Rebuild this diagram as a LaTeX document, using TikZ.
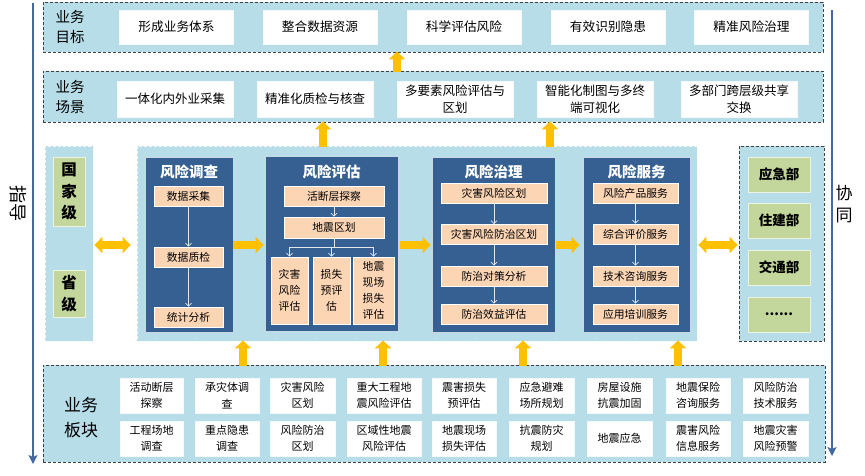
\documentclass[tikz,border=0pt]{standalone}
\usepackage{fontspec}
\setmainfont{Noto Sans CJK SC}
\usetikzlibrary{arrows.meta,calc}
\definecolor{lb}{HTML}{B7DDE8}
\definecolor{db}{HTML}{376092}
\definecolor{peach}{HTML}{FCD5B5}
\definecolor{gr}{HTML}{C3D69B}
\definecolor{yel}{HTML}{FFC000}
\definecolor{vline}{HTML}{4468A2}
\newcommand{\fs}[2]{\fontsize{#1}{#2}\selectfont}
\tikzset{
  band/.style={fill=lb, draw=black!75, dashed, line width=0.8pt, dash pattern=on 3pt off 2pt},
  softband/.style={fill=lb, draw=white!85!lb, dashed, line width=0.8pt, dash pattern=on 3pt off 2pt},
  wbox/.style={fill=white, draw=white!85!lb, line width=0.5pt, inner sep=0pt, align=center},
  gbox/.style={fill=gr, draw=white!70!gr, line width=0.8pt, inner sep=0pt, align=center, font=\fs{15.5}{21.5}\bfseries},
  modbox/.style={fill=db, draw=white!75!db, line width=0.8pt, inner sep=0pt},
  pbox/.style={fill=peach, draw=white, line width=0.6pt, inner sep=0pt, align=center, font=\fs{10.8}{16}},
  mtitle/.style={text=white, font=\fs{14.5}{16}\bfseries, inner sep=0pt},
  blabel/.style={align=center, inner sep=0pt},
  yarrow/.style={draw=yel, line width=8pt, -{Triangle[width=16pt,length=8pt]}},
  ydarrow/.style={draw=yel, line width=8pt, {Triangle[width=16pt,length=8pt]}-{Triangle[width=16pt,length=8pt]}},
  warrow/.style={draw=white!85!db, line width=0.8pt, -{Straight Barb[length=3pt,width=6pt]}},
  wline/.style={draw=white!85!db, line width=0.8pt},
  guide/.style={draw=vline, line width=1.6pt, -{Stealth[length=9pt,width=9pt,inset=2pt]}}
}
\begin{document}
\begin{tikzpicture}[x=1pt,y=-1pt]
\useasboundingbox (0,0) rectangle (865,475);

% guide lines
\coordinate (gl1) at (33,3);
\coordinate (gl2) at (33,464);
\coordinate (gr1) at (832,10);
\coordinate (gr2) at (832,456);
\draw[guide] (gl1) -- (gl2);
\draw[guide] (gr1) -- (gr2);
\node[rotate=-90, font=\fs{18}{20}, inner sep=0pt] (zhidao) at (18,203) {指导};
\node[align=center, font=\fs{17}{22}, inner sep=0pt] (xietong) at (844,204) {协\\同};

% goals band
\node[band, minimum width=780, minimum height=50, inner sep=0pt] (gband) at (433,27) {};
\node[blabel, font=\fs{14.5}{20}] (glab) at (70,27) {业务\\目标};
\foreach \n/\cx/\t in {g1/176.5/形成业务体系, g2/320/整合数据资源, g3/464/科学评估风险, g4/608/有效识别隐患, g5/751.5/精准风险治理}{
  \node[wbox, minimum width=114, minimum height=34, font=\fs{12.7}{16}] (\n) at (\cx,27) {\t};
}

% scenario band
\node[band, minimum width=780, minimum height=51, inner sep=0pt] (sband) at (433,96.5) {};
\node[blabel, font=\fs{14.5}{20}] (slab) at (70,96.5) {业务\\场景};
\foreach \n/\cx/\t in {s1/175/一体化内外业采集, s2/315/精准化质检与核查, s3/455/多要素风险评估与\\区划, s4/595/智能化制图与多终\\端可视化, s5/739/多部门跨层级共享\\交换}{
  \node[wbox, minimum width=116, minimum height=36, font=\fs{12.5}{17}] (\n) at (\cx,99) {\t};
}

% left level box
\node[softband, minimum width=48, minimum height=195, inner sep=0pt] (lbox) at (69,243.5) {};
\node[gbox, minimum width=32, minimum height=69] (guo) at (69,191.5) {国\\家\\级};
\node[gbox, minimum width=32, minimum height=47] (sheng) at (69,293.5) {省\\级};

% middle box
\node[softband, minimum width=560, minimum height=195, inner sep=0pt] (mid) at (417,243.5) {};

% module 1
\node[modbox, minimum width=88, minimum height=175] (m1) at (189,244.5) {};
\node[mtitle] (m1t) at (189,172) {风险调查};
\node[pbox, minimum width=69, minimum height=20] (a1) at (188.5,196) {数据采集};
\node[pbox, minimum width=69, minimum height=20] (a2) at (188.5,257) {数据质检};
\node[pbox, minimum width=69, minimum height=20] (a3) at (188.5,317) {统计分析};
\draw[warrow] (a1) -- (a2);
\draw[warrow] (a2) -- (a3);

% module 2
\node[modbox, minimum width=133, minimum height=175] (m2) at (331.5,243.5) {};
\node[mtitle] (m2t) at (331.5,172) {风险评估};
\node[pbox, minimum width=100, minimum height=20] (b1) at (334,196) {活断层探察};
\node[pbox, minimum width=100, minimum height=21] (b2) at (334,227.5) {地震区划};
\node[pbox, minimum width=37, minimum height=67] (b3) at (289.5,290.5) {灾害\\风险\\评估};
\node[pbox, minimum width=37, minimum height=67] (b4) at (331.5,290.5) {损失\\预评\\估};
\node[pbox, minimum width=41, minimum height=67] (b5) at (373.5,290.5) {地震\\现场\\损失\\评估};
\draw[warrow] (b1) -- (b2);
\coordinate (bj) at (334,247);
\draw[wline] (b2.south) -- (bj);
\draw[wline] (b3.north |- bj) -- (b5.north |- bj);
\draw[warrow] (b3.north |- bj) -- (b3.north);
\draw[warrow] (b4.north |- bj) -- (b4.north);
\draw[warrow] (b5.north |- bj) -- (b5.north);

% module 3
\node[modbox, minimum width=123, minimum height=175] (m3) at (493.5,244.5) {};
\node[mtitle] (m3t) at (493.5,172) {风险治理};
\node[pbox, minimum width=106, minimum height=20] (c1) at (494,193) {灾害风险区划};
\node[pbox, minimum width=106, minimum height=20] (c2) at (494,234.5) {灾害风险防治区划};
\node[pbox, minimum width=106, minimum height=20] (c3) at (494,276) {防治对策分析};
\node[pbox, minimum width=106, minimum height=20] (c4) at (494,314) {防治效益评估};
\draw[warrow] (c1) -- (c2);
\draw[warrow] (c2) -- (c3);
\draw[warrow] (c3) -- (c4);

% module 4
\node[modbox, minimum width=107, minimum height=175] (m4) at (636.5,244.5) {};
\node[mtitle] (m4t) at (636.5,172) {风险服务};
\node[pbox, minimum width=85, minimum height=20] (d1) at (635.5,193) {风险产品服务};
\node[pbox, minimum width=85, minimum height=20] (d2) at (635.5,234) {综合评价服务};
\node[pbox, minimum width=85, minimum height=20] (d3) at (635.5,276) {技术咨询服务};
\node[pbox, minimum width=85, minimum height=20] (d4) at (635.5,314) {应用培训服务};
\draw[warrow] (d1) -- (d2);
\draw[warrow] (d2) -- (d3);
\draw[warrow] (d3) -- (d4);

% right department box
\node[band, minimum width=85, minimum height=195, inner sep=0pt] (rbox) at (781.5,243.5) {};
\node[gbox, minimum width=62, minimum height=35, font=\fs{13.5}{16}\bfseries] (r1) at (779,174.5) {应急部};
\node[gbox, minimum width=62, minimum height=35, font=\fs{13.5}{16}\bfseries] (r2) at (779,220.5) {住建部};
\node[gbox, minimum width=62, minimum height=35, font=\fs{13.5}{16}\bfseries] (r3) at (779,267.5) {交通部};
\node[gbox, minimum width=62, minimum height=35, font=\fs{13.5}{16}\bfseries] (r4) at (779,314.5) {......};

% bottom band
\node[band, minimum width=782, minimum height=97, inner sep=0pt] (bband) at (434,413.5) {};
\node[blabel, font=\fs{17}{25}] (blab) at (81,418) {业务\\板块};
\foreach \n/\cx/\w/\t in {p1/151.5/63/活动断层\\探察, p2/227/64/承灾体调\\查, p3/302.5/65/灾害风险\\区划, p4/384/74/重大工程地\\震风险评估, p5/464/64/震害损失\\预评估, p6/541.5/65/应急避难\\场所规划, p7/619.5/65/房屋设施\\抗震加固, p8/698/64/地震保险\\咨询服务, p9/775.5/65/风险防治\\技术服务}{
  \node[wbox, minimum width=\w, minimum height=35, font=\fs{11}{16.5}] (\n) at (\cx,395.5) {\t};
}
\foreach \n/\cx/\w/\t in {q1/151.5/63/工程场地\\调查, q2/227/64/重点隐患\\调查, q3/302.5/65/风险防治\\区划, q4/384/74/区域性地震\\风险评估, q5/464/64/地震现场\\损失评估, q6/541.5/65/抗震防灾\\规划, q7/619.5/65/地震应急, q8/698/64/震害风险\\信息服务, q9/775.5/65/地震灾害\\风险预警}{
  \node[wbox, minimum width=\w, minimum height=35, font=\fs{11}{16.5}] (\n) at (\cx,438.5) {\t};
}

% yellow arrows
\draw[yarrow] ([yshift=-1pt]sband.north -| 397,0) -- ([yshift=1pt]gband.south -| 397,0);
\draw[yarrow] ([yshift=-1pt]mid.north -| 323,0) -- ([yshift=1pt]sband.south -| 323,0);
\draw[yarrow] ([yshift=-1pt]mid.north -| 550,0) -- ([yshift=1pt]sband.south -| 550,0);
\foreach \x in {243,383,523,678}{
  \draw[yarrow] ([yshift=-1pt]bband.north -| \x,0) -- ([yshift=1pt]mid.south -| \x,0);
}
\draw[ydarrow] ([xshift=1pt]lbox.east |- 0,245) -- ([xshift=-6pt]mid.west |- 0,245);
\draw[ydarrow] ([xshift=1pt]mid.east |- 0,245) -- ([xshift=-1pt]rbox.west |- 0,245);
\draw[yarrow] (m1.east |- 0,245) -- ([xshift=-1pt]m2.west |- 0,245);
\draw[yarrow] ([xshift=2pt]m2.east |- 0,245) -- ([xshift=-1pt]m3.west |- 0,245);
\draw[yarrow] ([xshift=1pt]m3.east |- 0,245) -- ([xshift=-3pt]m4.west |- 0,245);
\end{tikzpicture}
\end{document}
